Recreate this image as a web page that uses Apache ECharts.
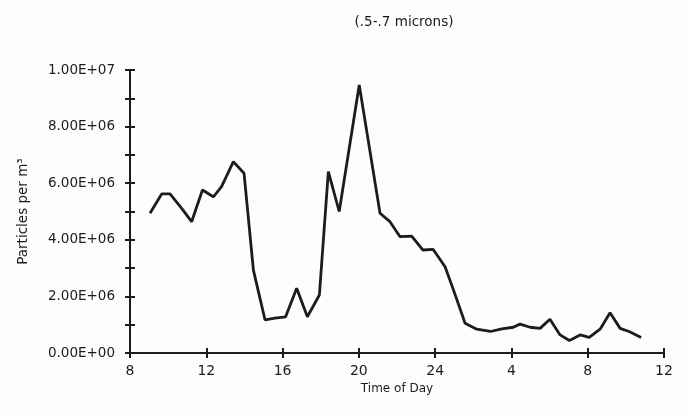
<!DOCTYPE html>
<html>
<head>
<meta charset="utf-8">
<style>
  html, body { margin: 0; padding: 0; background: #fdfdfb; }
  #chart { width: 690px; height: 413px; }
</style>
<script src="https://cdn.jsdelivr.net/npm/echarts@6/dist/echarts.min.js"></script>
</head>
<body>
<div id="chart"></div>
<script>
// Hours since midnight of the first day (values past 24 roll into the next morning)
const hours = [
  9.05, 9.66, 10.1, 10.71, 11.23, 11.8, 12.37, 12.8, 13.42, 13.98,
  14.47, 15.08, 15.6, 16.16, 16.74, 17.3, 17.93, 18.4, 18.97, 20.02,
  21.11, 21.63, 22.16, 22.77, 23.35, 23.9, 24.52, 24.96, 25.57, 26.18,
  26.9, 27.5, 28.1, 28.45, 28.98, 29.5, 30.02, 30.55, 31.04, 31.6,
  32.08, 32.65, 33.17, 33.7, 34.2, 34.8
];
// Particle counts, per cubic metre
const particles = [
  4.94e6, 5.62e6, 5.62e6, 5.11e6, 4.64e6, 5.76e6, 5.52e6, 5.88e6, 6.76e6, 6.35e6,
  2.93e6, 1.17e6, 1.23e6, 1.28e6, 2.29e6, 1.28e6, 2.05e6, 6.41e6, 5.0e6, 9.47e6,
  4.94e6, 4.64e6, 4.11e6, 4.13e6, 3.64e6, 3.66e6, 3.05e6, 2.23e6, 1.05e6, 0.84e6,
  0.76e6, 0.85e6, 0.91e6, 1.02e6, 0.91e6, 0.87e6, 1.19e6, 0.64e6, 0.44e6, 0.64e6,
  0.55e6, 0.84e6, 1.42e6, 0.87e6, 0.75e6, 0.55e6
];
const yTicks = ['0.00E+00', '2.00E+06', '4.00E+06', '6.00E+06', '8.00E+06', '1.00E+07'];

const ink = '#1c1c1c';
const font = 'DejaVu Sans, Verdana, sans-serif';

function clockLabel(v) {
  return String(v > 24 ? v - 24 : v);
}
function sciLabel(v) {
  const idx = Math.round(v / 2e6);
  if (Math.abs(v - idx * 2e6) > 1) return '';
  return yTicks[idx] || '';
}

const chart = echarts.init(document.getElementById('chart'));
const axisLine = { show: true, lineStyle: { color: ink, width: 2 } };
const tick = (inside) => ({ show: true, inside: inside, length: 5, lineStyle: { color: ink, width: 2 } });

chart.setOption({
  backgroundColor: '#fdfdfb',
  animation: false,
  title: {
    text: '(.5-.7 microns)',
    left: 399, top: 10, textAlign: 'center',
    textStyle: { fontFamily: font, fontSize: 13.5, fontWeight: 'normal', color: ink }
  },
  grid: { left: 130, right: 26, top: 70, bottom: 60 },
  xAxis: [
    {
      type: 'value', min: 8, max: 36, interval: 4,
      name: 'Time of Day', nameLocation: 'middle', nameGap: 28,
      nameTextStyle: { fontFamily: font, fontSize: 12, color: ink },
      axisLine: axisLine, axisTick: tick(false), splitLine: { show: false },
      axisLabel: { formatter: clockLabel, fontFamily: font, fontSize: 14, color: ink, margin: 11 }
    },
    {
      type: 'value', min: 8, max: 36, interval: 4, position: 'bottom',
      axisLine: { show: false }, axisTick: tick(true), splitLine: { show: false },
      axisLabel: { show: false }
    }
  ],
  yAxis: [
    {
      type: 'value', min: 0, max: 1e7, interval: 1e6,
      name: 'Particles per m³', nameLocation: 'middle', nameGap: 100,
      nameTextStyle: { fontFamily: font, fontSize: 13.5, color: ink },
      axisLine: axisLine, axisTick: tick(false), splitLine: { show: false },
      axisLabel: { formatter: sciLabel, fontFamily: font, fontSize: 13.5, color: ink, margin: 15 }
    },
    {
      type: 'value', min: 0, max: 1e7, interval: 1e6, position: 'left',
      axisLine: { show: false }, axisTick: tick(true), splitLine: { show: false },
      axisLabel: { show: false }
    }
  ],
  series: [{
    type: 'line',
    data: hours.map((h, i) => [h, particles[i]]),
    showSymbol: false,
    lineStyle: { color: ink, width: 2.8 },
    z: 5
  }]
});
</script>
</body>
</html>
